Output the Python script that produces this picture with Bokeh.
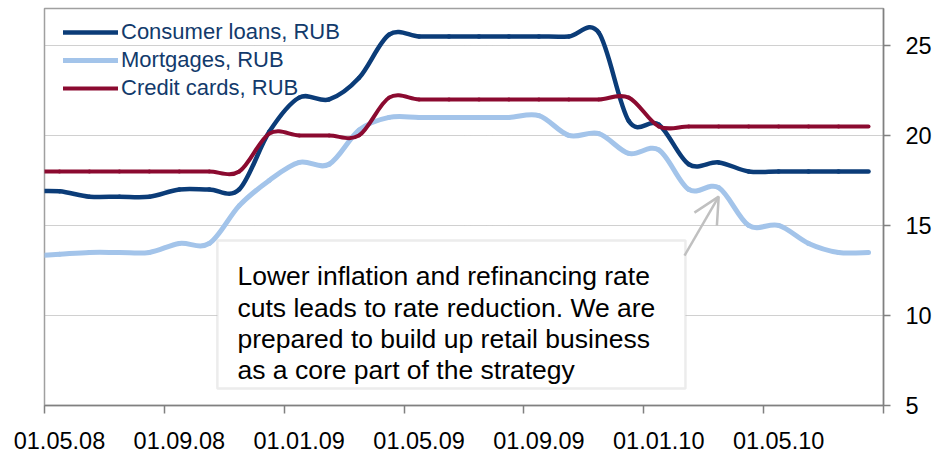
from bokeh.plotting import figure
from bokeh.models import (Range1d, FixedTicker, Legend, LegendItem, Label,
                          BoxAnnotation, Arrow, OpenHead)
from bokeh.embed import file_html
from bokeh.resources import INLINE

# ---- data (monthly, first entry is the month before the axis start) ----
months = ["01.04.08", "01.05.08", "01.06.08", "01.07.08", "01.08.08", "01.09.08",
          "01.10.08", "01.11.08", "01.12.08", "01.01.09", "01.02.09", "01.03.09",
          "01.04.09", "01.05.09", "01.06.09", "01.07.09", "01.08.09", "01.09.09",
          "01.10.09", "01.11.09", "01.12.09", "01.01.10", "01.02.10", "01.03.10",
          "01.04.10", "01.05.10", "01.06.10", "01.07.10", "01.08.10"]

consumer_loans = [16.9, 16.9, 16.6, 16.6, 16.6, 17.0, 17.0, 17.0, 20.2, 22.1,
                  22.0, 23.2, 25.6, 25.5, 25.5, 25.5, 25.5, 25.5, 25.5, 25.7,
                  20.8, 20.6, 18.4, 18.5, 18.0, 18.0, 18.0, 18.0, 18.0]
mortgages = [13.3, 13.4, 13.5, 13.5, 13.5, 14.0, 14.0, 16.1, 17.5, 18.5,
             18.4, 20.3, 21.0, 21.0, 21.0, 21.0, 21.0, 21.1, 20.0, 20.1,
             19.0, 19.2, 17.0, 17.1, 15.0, 15.0, 14.0, 13.5, 13.5]
credit_cards = [18.0, 18.0, 18.0, 18.0, 18.0, 18.0, 18.0, 18.0, 20.1, 20.0,
                20.0, 20.0, 22.1, 22.0, 22.0, 22.0, 22.0, 22.0, 22.0, 22.0,
                22.1, 20.5, 20.5, 20.5, 20.5, 20.5, 20.5, 20.5, 20.5]

series_names = ["Consumer loans, RUB", "Mortgages, RUB", "Credit cards, RUB"]
tick_labels = ["01.05.08", "01.09.08", "01.01.09", "01.05.09",
               "01.09.09", "01.01.10", "01.05.10"]
y_ticks = [5, 10, 15, 20, 25]
note_lines = ["Lower inflation and refinancing rate",
              "cuts leads to rate reduction. We are",
              "prepared to build up retail business",
              "as a core part of the strategy"]

# category centres: month k of the axis sits at k + 0.5
xs = [i - 0.5 for i in range(len(months))]

FONT = "Liberation Sans"
colors = ["#0B3C78", "#A3C4EA", "#8B0A30"]
widths = [4.5, 5, 4]

p = figure(frame_width=839, frame_height=397,
           x_range=Range1d(0, 28), y_range=Range1d(5, 27.05),
           x_axis_location="below", y_axis_location="right",
           output_backend="svg", toolbar_location=None,
           min_border_left=44, min_border_right=50,
           min_border_top=8, min_border_bottom=50,
           background_fill_color="white", border_fill_color="white")

p.outline_line_color = "#A0A0A0"
p.outline_line_width = 1.5
p.xgrid.visible = False
p.ygrid.ticker = FixedTicker(ticks=[10, 15, 20, 25])
p.ygrid.grid_line_color = "#A0A0A0"
p.ygrid.grid_line_dash = "1 1"
p.ygrid.grid_line_width = 1

# x axis: labels at category centres, tick marks at category boundaries
major = [4 * i + 0.5 for i in range(len(tick_labels))]
minor = [4 * i for i in range(8)]
xa = p.xaxis[0]
xa.ticker = FixedTicker(ticks=major, minor_ticks=minor)
xa.major_label_overrides = {m: t for m, t in zip(major, tick_labels)}
xa.major_tick_out = 0
xa.major_tick_in = 0
xa.minor_tick_out = 8
xa.minor_tick_in = 0
xa.minor_tick_line_color = "#808080"
xa.minor_tick_line_width = 1.5
xa.axis_line_color = "#808080"
xa.axis_line_width = 1.5
xa.major_label_standoff = 18
xa.major_label_text_font = FONT
xa.major_label_text_font_size = "23.5px"
xa.major_label_text_color = "black"

ya = p.yaxis[0]
ya.ticker = FixedTicker(ticks=y_ticks)
ya.major_tick_out = 7
ya.major_tick_in = 0
ya.minor_tick_out = 0
ya.minor_tick_in = 0
ya.major_tick_line_color = "#808080"
ya.major_tick_line_width = 1.5
ya.axis_line_color = "#808080"
ya.axis_line_width = 1.5
ya.major_label_standoff = 15
ya.major_label_text_font = FONT
ya.major_label_text_font_size = "23.5px"
ya.major_label_text_color = "black"


def smooth_segments(x, y):
    """Cubic Bezier segments through the points (Excel-style smoothed line)."""
    n = len(x)
    seg = dict(x0=[], y0=[], x1=[], y1=[], cx0=[], cy0=[], cx1=[], cy1=[])
    for i in range(n - 1):
        a = max(i - 1, 0)
        b = min(i + 2, n - 1)
        seg["x0"].append(x[i]); seg["y0"].append(y[i])
        seg["x1"].append(x[i + 1]); seg["y1"].append(y[i + 1])
        seg["cx0"].append(x[i] + (x[i + 1] - x[a]) / 6)
        seg["cy0"].append(y[i] + (y[i + 1] - y[a]) / 6)
        seg["cx1"].append(x[i + 1] - (x[b] - x[i]) / 6)
        seg["cy1"].append(y[i + 1] - (y[b] - y[i]) / 6)
    return seg


renderers = []
for vals, col, w in zip([consumer_loans, mortgages, credit_cards], colors, widths):
    r = p.bezier(**smooth_segments(xs, vals), line_color=col, line_width=w,
                 line_cap="round")
    renderers.append(r)

legend = Legend(items=[LegendItem(label=n, renderers=[r])
                       for n, r in zip(series_names, renderers)],
                location=(19, 303), padding=0, margin=0, spacing=0,
                glyph_width=55, glyph_height=28, label_height=28,
                label_standoff=3, label_text_font=FONT,
                label_text_font_size="22px", label_text_color="#123A6B",
                background_fill_alpha=0, border_line_alpha=0)
p.add_layout(legend)

# callout box with comment
box = BoxAnnotation(left=5.77, right=21.39, bottom=5.94, top=14.17,
                    fill_color="white", fill_alpha=1,
                    line_color="#C0C0C0", line_width=2.5)
p.add_layout(box)

p.add_layout(Arrow(end=OpenHead(size=26, line_color="#C0C0C0", line_width=2.5),
                   x_start=21.36, y_start=13.33,
                   x_end=xs[23], y_end=mortgages[23] - 0.5,
                   line_color="#C0C0C0", line_width=2.5))

for i, line in enumerate(note_lines):
    p.add_layout(Label(x=6.44, y=12.18 - i * 1.745, text=line,
                       text_font=FONT, text_font_size="26.5px",
                       text_color="black", text_baseline="alphabetic",
                       text_align="left"))

open("out.html", "w").write(file_html(p, INLINE))
